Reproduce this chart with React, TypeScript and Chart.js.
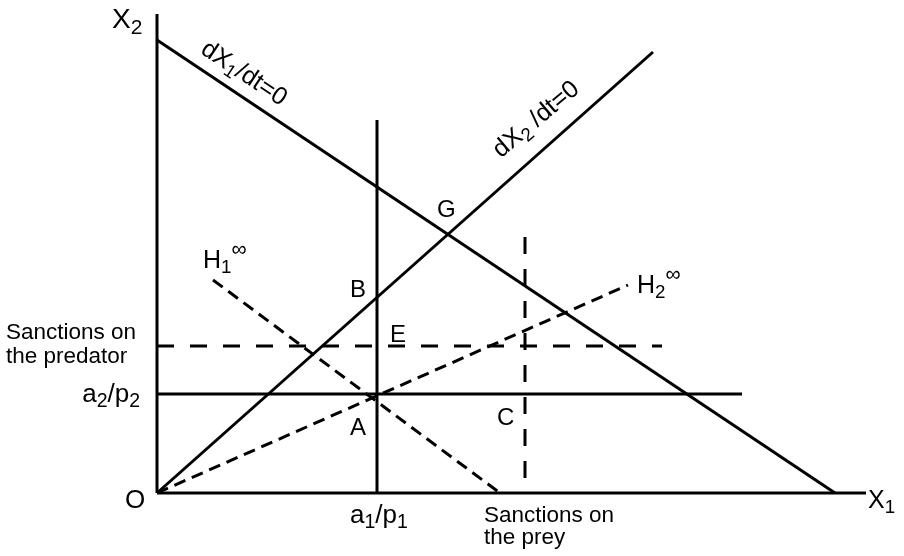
import { useEffect, useRef } from 'react';
import { Chart, registerables } from 'chart.js';

Chart.register(...registerables);

// Coordinate space: x from 0 to 709, y from 0 to 479 (origin O at bottom-left)
const X_MAX = 709;
const Y_MAX = 479;

const axisX1 = [{ x: 0, y: 0 }, { x: 709, y: 0 }];
const axisX2 = [{ x: 0, y: 0 }, { x: 0, y: 479 }];
const isoclineX1 = [{ x: 0, y: 453 }, { x: 678, y: 0 }]; // dX1/dt=0
const isoclineX2 = [{ x: 0, y: 0 }, { x: 496, y: 441 }]; // dX2/dt=0
const a1p1Line = [{ x: 220, y: 0 }, { x: 220, y: 373 }];
const a2p2Line = [{ x: 0, y: 99 }, { x: 585, y: 99 }];
const predatorSanction = [{ x: 0, y: 147 }, { x: 505, y: 147 }];
const preySanction = [{ x: 368, y: 15 }, { x: 368, y: 261 }];
const H1inf = [{ x: 56, y: 213 }, { x: 343, y: 0 }];
const H2inf = [{ x: 0, y: 0 }, { x: 471, y: 208 }];

type Part = { t: string; k?: 'sub' | 'sup' };
type Label = {
  parts: Part[];
  x: number;
  y: number;
  size: number;
  align: 'left' | 'center' | 'right';
  angle?: number;
  mid?: boolean;
};

const LABELS: Label[] = [
  { parts: [{ t: 'X' }, { t: '2', k: 'sub' }], x: -45, y: 465, size: 28, align: 'left' },
  { parts: [{ t: 'X' }, { t: '1', k: 'sub' }], x: 711, y: -15, size: 25, align: 'left' },
  { parts: [{ t: 'O' }], x: -22, y: -15, size: 26, align: 'center' },
  { parts: [{ t: 'a' }, { t: '1', k: 'sub' }, { t: '/p' }, { t: '1', k: 'sub' }], x: 193, y: -30, size: 26, align: 'left' },
  { parts: [{ t: 'a' }, { t: '2', k: 'sub' }, { t: '/p' }, { t: '2', k: 'sub' }], x: -17, y: 91, size: 26, align: 'right' },
  { parts: [{ t: 'Sanctions on' }], x: 327, y: -29, size: 22.5, align: 'left' },
  { parts: [{ t: 'the prey' }], x: 327, y: -51, size: 22.5, align: 'left' },
  { parts: [{ t: 'Sanctions on' }], x: -151, y: 154, size: 22.5, align: 'left' },
  { parts: [{ t: 'the predator' }], x: -151, y: 130, size: 22.5, align: 'left' },
  { parts: [{ t: 'G' }], x: 280, y: 276, size: 24, align: 'left' },
  { parts: [{ t: 'B' }], x: 193, y: 196, size: 24, align: 'left' },
  { parts: [{ t: 'E' }], x: 233, y: 151, size: 24, align: 'left' },
  { parts: [{ t: 'A' }], x: 193, y: 58, size: 24, align: 'left' },
  { parts: [{ t: 'C' }], x: 340, y: 68, size: 24, align: 'left' },
  { parts: [{ t: 'H' }, { t: '1', k: 'sub' }, { t: '∞', k: 'sup' }], x: 46, y: 225, size: 25, align: 'left' },
  { parts: [{ t: 'H' }, { t: '2', k: 'sub' }, { t: '∞', k: 'sup' }], x: 480, y: 200, size: 25, align: 'left' },
  {
    parts: [{ t: 'dX' }, { t: '1', k: 'sub' }, { t: '/dt=0' }],
    x: 88, y: 421, size: 25, align: 'center', angle: 33.7, mid: true,
  },
  {
    parts: [{ t: 'dX' }, { t: '2', k: 'sub' }, { t: ' /dt=0' }],
    x: 378, y: 375, size: 25, align: 'center', angle: -40, mid: true,
  },
];

const FONT = '"Liberation Sans", Arial, Helvetica, sans-serif';

function partSize(p: Part, size: number) {
  if (p.k === 'sub') return size * 0.75;
  if (p.k === 'sup') return size * 0.85;
  return size;
}

function drawRich(ctx: CanvasRenderingContext2D, L: Label, px: number, py: number) {
  const widths = L.parts.map((p) => {
    ctx.font = `${partSize(p, L.size)}px ${FONT}`;
    return ctx.measureText(p.t).width;
  });
  const total = widths.reduce((a, b) => a + b, 0);
  let cx = L.align === 'left' ? 0 : L.align === 'center' ? -total / 2 : -total;
  const base = L.mid ? L.size * 0.36 : 0;
  ctx.save();
  ctx.translate(px, py);
  if (L.angle) ctx.rotate((L.angle * Math.PI) / 180);
  ctx.textAlign = 'left';
  ctx.textBaseline = 'alphabetic';
  L.parts.forEach((p, i) => {
    ctx.font = `${partSize(p, L.size)}px ${FONT}`;
    let dy = base;
    if (p.k === 'sub') dy += L.size * 0.2;
    if (p.k === 'sup') dy -= L.size * 0.5;
    ctx.fillText(p.t, cx, dy);
    cx += widths[i];
  });
  ctx.restore();
}

const labelPlugin = {
  id: 'richLabels',
  afterDraw(chart: any) {
    const ctx = chart.ctx as CanvasRenderingContext2D;
    const sx = chart.scales.x;
    const sy = chart.scales.y;
    ctx.save();
    ctx.fillStyle = '#000';
    for (const L of LABELS) {
      drawRich(ctx, L, sx.getPixelForValue(L.x), sy.getPixelForValue(L.y));
    }
    ctx.restore();
  },
};

function seg(data: { x: number; y: number }[], dash: number[] = [], width = 3) {
  return {
    data,
    showLine: true,
    borderColor: '#000',
    backgroundColor: '#000',
    borderWidth: width,
    borderDash: dash,
    borderCapStyle: 'butt' as const,
    pointRadius: 0,
    pointHoverRadius: 0,
    tension: 0,
    clip: false as const,
  };
}

export default function App() {
  const ref = useRef<HTMLCanvasElement | null>(null);
  useEffect(() => {
    if (!ref.current) return;
    const chart = new Chart(ref.current, {
      type: 'scatter',
      data: {
        datasets: [
          seg(axisX1),
          seg(axisX2),
          seg(isoclineX1),
          seg(isoclineX2),
          seg(a1p1Line),
          seg(a2p2Line),
          seg(predatorSanction, [17, 16]),
          seg(preySanction, [17, 15]),
          seg(H1inf, [12, 7]),
          seg(H2inf, [12, 7]),
        ] as any,
      },
      options: {
        animation: false,
        responsive: false,
        devicePixelRatio: 1,
        events: [],
        layout: { padding: { left: 157, right: 38, top: 14, bottom: 63 } },
        scales: {
          x: { type: 'linear', min: 0, max: X_MAX, display: false },
          y: { type: 'linear', min: 0, max: Y_MAX, display: false },
        },
        plugins: {
          legend: { display: false },
          tooltip: { enabled: false },
          title: { display: false },
        },
      },
      plugins: [labelPlugin],
    });
    return () => chart.destroy();
  }, []);
  return (
    <div style={{ position: 'fixed', left: 0, top: 0, width: 904, height: 556, background: '#fff' }}>
      <canvas ref={ref} width={904} height={556} style={{ display: 'block' }} />
    </div>
  );
}
